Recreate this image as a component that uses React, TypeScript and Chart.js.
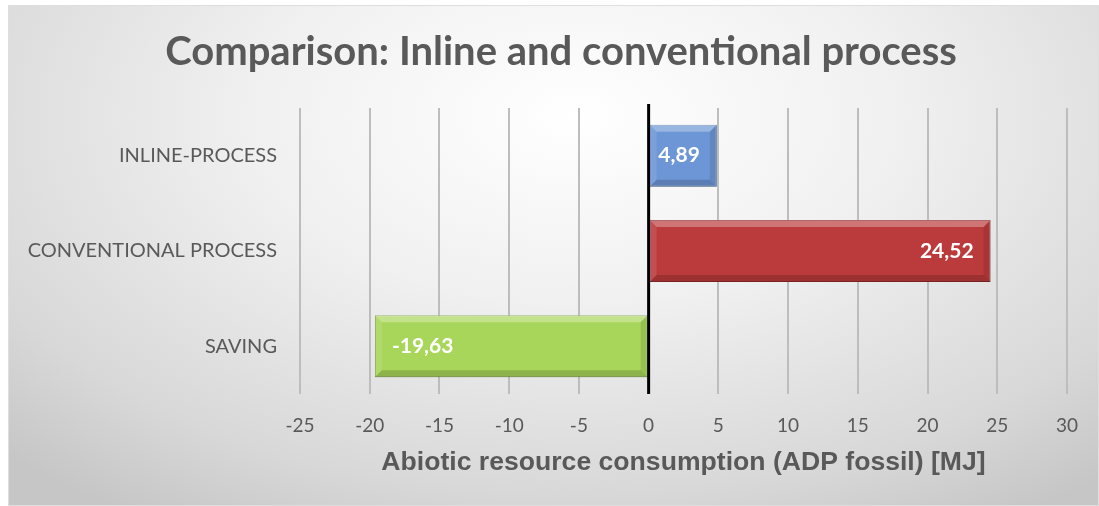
import React, { useEffect, useRef } from "react";
import { Chart, registerables } from "chart.js";

Chart.register(...registerables);

const categories = ["INLINE-PROCESS", "CONVENTIONAL PROCESS", "SAVING"];
const values = [4.89, 24.52, -19.63];
const valueLabels = ["4,89", "24,52", "-19,63"];
const barColors = ["#6d96d6", "#bb3a3b", "#a8d65a"];
const barBorders = ["#4f73a8", "#8c2a2a", "#7f9f42"];
const chartTitle = "Comparison: Inline and conventional process";
const xAxisTitle = "Abiotic resource consumption (ADP fossil) [MJ]";
const xMin = -25;
const xMax = 30;
const xStep = 5;

const bevelPlugin = {
  id: "bevelLabels",
  afterDatasetsDraw(chart: any) {
    const ctx = chart.ctx;
    const meta = chart.getDatasetMeta(0);
    const b = 7;
    meta.data.forEach((el: any) => {
      const p = el.getProps(["x", "y", "base", "height"], true);
      const l = Math.min(p.x, p.base);
      const r = Math.max(p.x, p.base);
      const t = p.y - p.height / 2;
      const bt = p.y + p.height / 2;
      ctx.save();
      const poly = (pts: number[][], fill: string) => {
        ctx.beginPath();
        ctx.moveTo(pts[0][0], pts[0][1]);
        for (let k = 1; k < pts.length; k++) ctx.lineTo(pts[k][0], pts[k][1]);
        ctx.closePath();
        ctx.fillStyle = fill;
        ctx.fill();
      };
      poly([[l, t], [r, t], [r - b, t + b], [l + b, t + b]], "rgba(255,255,255,0.3)");
      poly([[l, t], [l + b, t + b], [l + b, bt - b], [l, bt]], "rgba(255,255,255,0.1)");
      poly([[r, t], [r, bt], [r - b, bt - b], [r - b, t + b]], "rgba(0,0,0,0.1)");
      poly([[l, bt], [l + b, bt - b], [r - b, bt - b], [r, bt]], "rgba(0,0,0,0.16)");
      ctx.restore();
    });
    const xs = chart.scales.x;
    const zx = xs.getPixelForValue(0);
    ctx.save();
    ctx.strokeStyle = "#000000";
    ctx.lineWidth = 3;
    ctx.beginPath();
    ctx.moveTo(zx, chart.chartArea.top - 4);
    ctx.lineTo(zx, chart.chartArea.bottom);
    ctx.stroke();
    ctx.restore();
    ctx.save();
    ctx.font = "bold 21px Lato";
    ctx.fillStyle = "#ffffff";
    ctx.textBaseline = "middle";
    meta.data.forEach((el: any, i: number) => {
      const p = el.getProps(["x", "y"], true);
      if (values[i] >= 0) {
        ctx.textAlign = "right";
        ctx.fillText(valueLabels[i], p.x - 17, p.y);
      } else {
        ctx.textAlign = "left";
        ctx.fillText(valueLabels[i], p.x + 17, p.y);
      }
    });
    ctx.restore();
  },
};

export default function App() {
  const ref = useRef<HTMLCanvasElement>(null);
  useEffect(() => {
    const chart = new Chart(ref.current as HTMLCanvasElement, {
      type: "bar",
      data: {
        labels: categories,
        datasets: [
          {
            data: values,
            backgroundColor: barColors,
            borderColor: barBorders,
            borderWidth: 1,
            borderSkipped: false,
            barPercentage: 0.65,
            categoryPercentage: 1,
          },
        ],
      },
      options: {
        indexAxis: "y",
        animation: false,
        responsive: false,
        layout: { padding: { left: 15, right: 0, top: 0, bottom: 26 } },
        plugins: {
          legend: { display: false },
          tooltip: { enabled: false },
          title: {
            display: true,
            text: chartTitle,
            color: "#595959",
            font: { family: "Lato", weight: "bold", size: 40 },
            padding: { top: 22, bottom: 32 },
          },
        },
        scales: {
          x: {
            min: xMin,
            max: xMax,
            ticks: {
              stepSize: xStep,
              color: "#595959",
              font: { family: "Lato", size: 19 },
              padding: 20,
            },
            grid: { color: "#bdbdbd", lineWidth: 2, drawTicks: false },
            border: { display: false },
            title: {
              display: true,
              text: xAxisTitle,
              color: "#595959",
              font: { family: "Liberation Sans", weight: "bold", size: 26.6 },
              padding: { top: 0, bottom: 0 },
            },
            afterFit: (s: any) => {
              s.height = 85;
            },
          },
          y: {
            ticks: {
              color: "#595959",
              font: { family: "Lato", size: 20 },
              padding: 23,
            },
            grid: { display: false, drawTicks: false },
            border: { display: false },
            afterFit: (s: any) => {
              s.width = 276;
            },
          },
          y2: {
            type: "category",
            position: "right",
            display: true,
            ticks: { display: false },
            grid: { display: false, drawTicks: false },
            border: { display: false },
            afterFit: (s: any) => {
              s.width = 30;
            },
          },
        },
      },
      plugins: [bevelPlugin],
    });
    return () => chart.destroy();
  }, []);
  return (
    <div
      style={{
        position: "absolute",
        left: 8,
        top: 5,
        width: 1091,
        height: 501,
        boxSizing: "border-box",
        border: "1px solid #dedede",
        background:
          "radial-gradient(ellipse 75% 95% at 52% 22%, #ffffff 0%, #f0f0f0 40%, #d8d8d8 80%, #c6c6c6 100%)",
      }}
    >
      <canvas ref={ref} width={1089} height={499} style={{ display: "block" }} />
    </div>
  );
}
